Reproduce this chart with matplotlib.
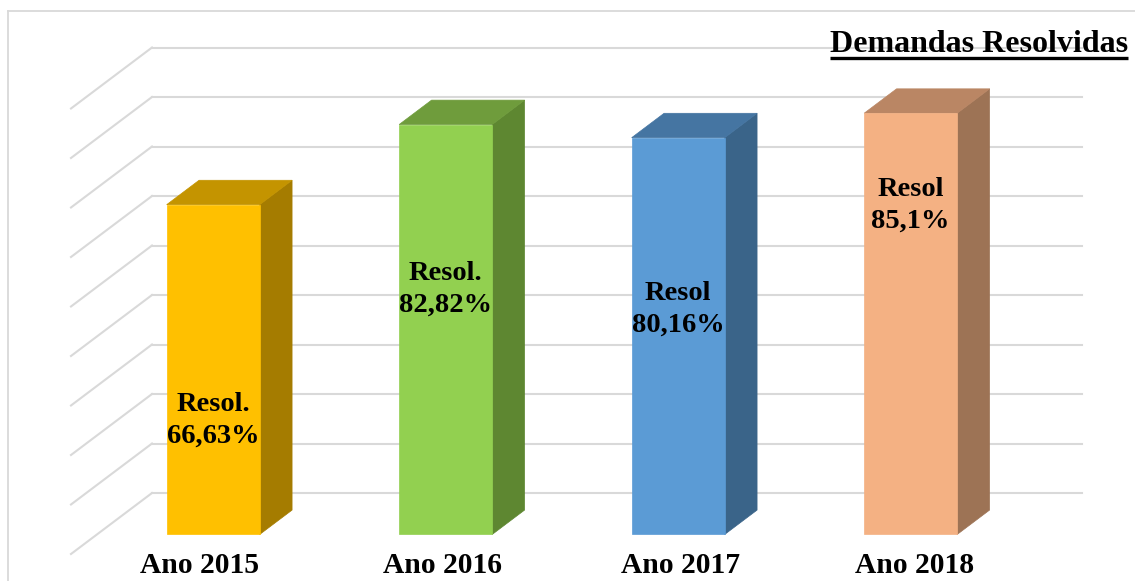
import matplotlib
matplotlib.use("Agg")
import matplotlib.pyplot as plt
from matplotlib.patches import Polygon

# chart data
categories = ["Ano 2015", "Ano 2016", "Ano 2017", "Ano 2018"]
values = [66.63, 82.82, 80.16, 85.1]
bar_labels = ["Resol.\n66,63%", "Resol.\n82,82%", "Resol\n80,16%", "Resol\n85,1%"]
title = "Demandas Resolvidas"
ticks = list(range(0, 100, 10))

# colours: front face, top face, right side face
front_colors = ["#FFC000", "#92D050", "#5B9BD5", "#F4B183"]
top_colors = ["#C49400", "#6F9C3C", "#4575A2", "#BA8664"]
side_colors = ["#A57C00", "#5E8731", "#3A6489", "#9D7355"]

# layout, in pixels of the 1135x581 picture
W, H = 1135, 581
WALL_L, WALL_R = 152, 1082      # back wall x extent
Y0, PXV = 493, 4.95             # y pixel of value 0, pixels per value unit
DEPTH_DX, DEPTH_DY = 81, 61     # full floor depth offset (px)
F_BACK, F_FRONT = 0.28, 0.68    # depth of bar back / front (0 = wall)
BAR_W = 0.4
label_heights = [23, 49.5, 45.5, 66.5]   # label centre, value units on front face
cat_shift = [-14, -3, 2.5, 4]            # category label nudge, px
GRID = "#D9D9D9"
SERIF = ["Liberation Serif", "DejaVu Serif"]

XU = (WALL_R - WALL_L) / len(categories)   # px per category


def proj(x, v, f):
    # oblique projection: move towards the viewer by depth f
    return x - f * DEPTH_DX / XU, v - f * DEPTH_DY / PXV


fig = plt.figure(figsize=(W / 100, H / 100), dpi=100)
ax = fig.add_axes([0, 0, 1, 1])
ax.set_xlim(-0.5 - WALL_L / XU, len(categories) - 0.5 + (W - WALL_R) / XU)
ax.set_ylim(-(H - Y0) / PXV, Y0 / PXV)
ax.axis("off")

# chart area border (left and top edges visible)
ax.plot([8 / W, 8 / W], [0, 1 - 11 / H], color=GRID, lw=1.3, transform=ax.transAxes)
ax.plot([8 / W, 1], [1 - 11 / H, 1 - 11 / H], color=GRID, lw=1.3, transform=ax.transAxes)

# gridlines on back wall and left side wall
x_left, x_right = -0.5, len(categories) - 0.5
for t in ticks:
    ax.plot([x_left, x_right], [t, t], color=GRID, lw=1.5, zorder=1)
    p0 = proj(x_left, t, 0)
    p1 = proj(x_left, t, 1)
    ax.plot([p0[0], p1[0]], [p0[1], p1[1]], color=GRID, lw=1.5, zorder=1)

# 3D bars
for i, v in enumerate(values):
    l, r = i - BAR_W / 2, i + BAR_W / 2
    front = [proj(l, 0, F_FRONT), proj(r, 0, F_FRONT), proj(r, v, F_FRONT), proj(l, v, F_FRONT)]
    side = [proj(r, 0, F_FRONT), proj(r, 0, F_BACK), proj(r, v, F_BACK), proj(r, v, F_FRONT)]
    top = [proj(l, v, F_FRONT), proj(r, v, F_FRONT), proj(r, v, F_BACK), proj(l, v, F_BACK)]
    ax.add_patch(Polygon(side, closed=True, facecolor=side_colors[i], edgecolor=side_colors[i], lw=0.5, zorder=3))
    ax.add_patch(Polygon(top, closed=True, facecolor=top_colors[i], edgecolor=top_colors[i], lw=0.5, zorder=3))
    ax.add_patch(Polygon(front, closed=True, facecolor=front_colors[i], edgecolor=front_colors[i], lw=0.5, zorder=4))

    lx, ly = proj(i, label_heights[i], F_FRONT)
    ax.text(lx, ly, bar_labels[i], ha="center", va="center", fontsize=20.5,
            fontweight="bold", family=SERIF, linespacing=1.35, zorder=5)

    cx, _ = proj(i, 0, F_FRONT)
    ax.text(cx + cat_shift[i] / XU, (Y0 - 573) / PXV, categories[i], ha="center", va="baseline",
            fontsize=21.3, fontweight="bold", family=SERIF, zorder=5)

# title, underlined
t = ax.text(1128 / W, 1 - 52 / H, title, ha="right", va="baseline", fontsize=23,
            fontweight="bold", family=SERIF, transform=ax.transAxes, zorder=5)
fig.canvas.draw()
bb = t.get_window_extent(fig.canvas.get_renderer())
ax.plot([bb.x0 / W, bb.x1 / W], [1 - 58 / H, 1 - 58 / H], color="black", lw=2.4,
        transform=ax.transAxes, zorder=5, solid_capstyle="butt")

fig.savefig("out.png", dpi=100)
